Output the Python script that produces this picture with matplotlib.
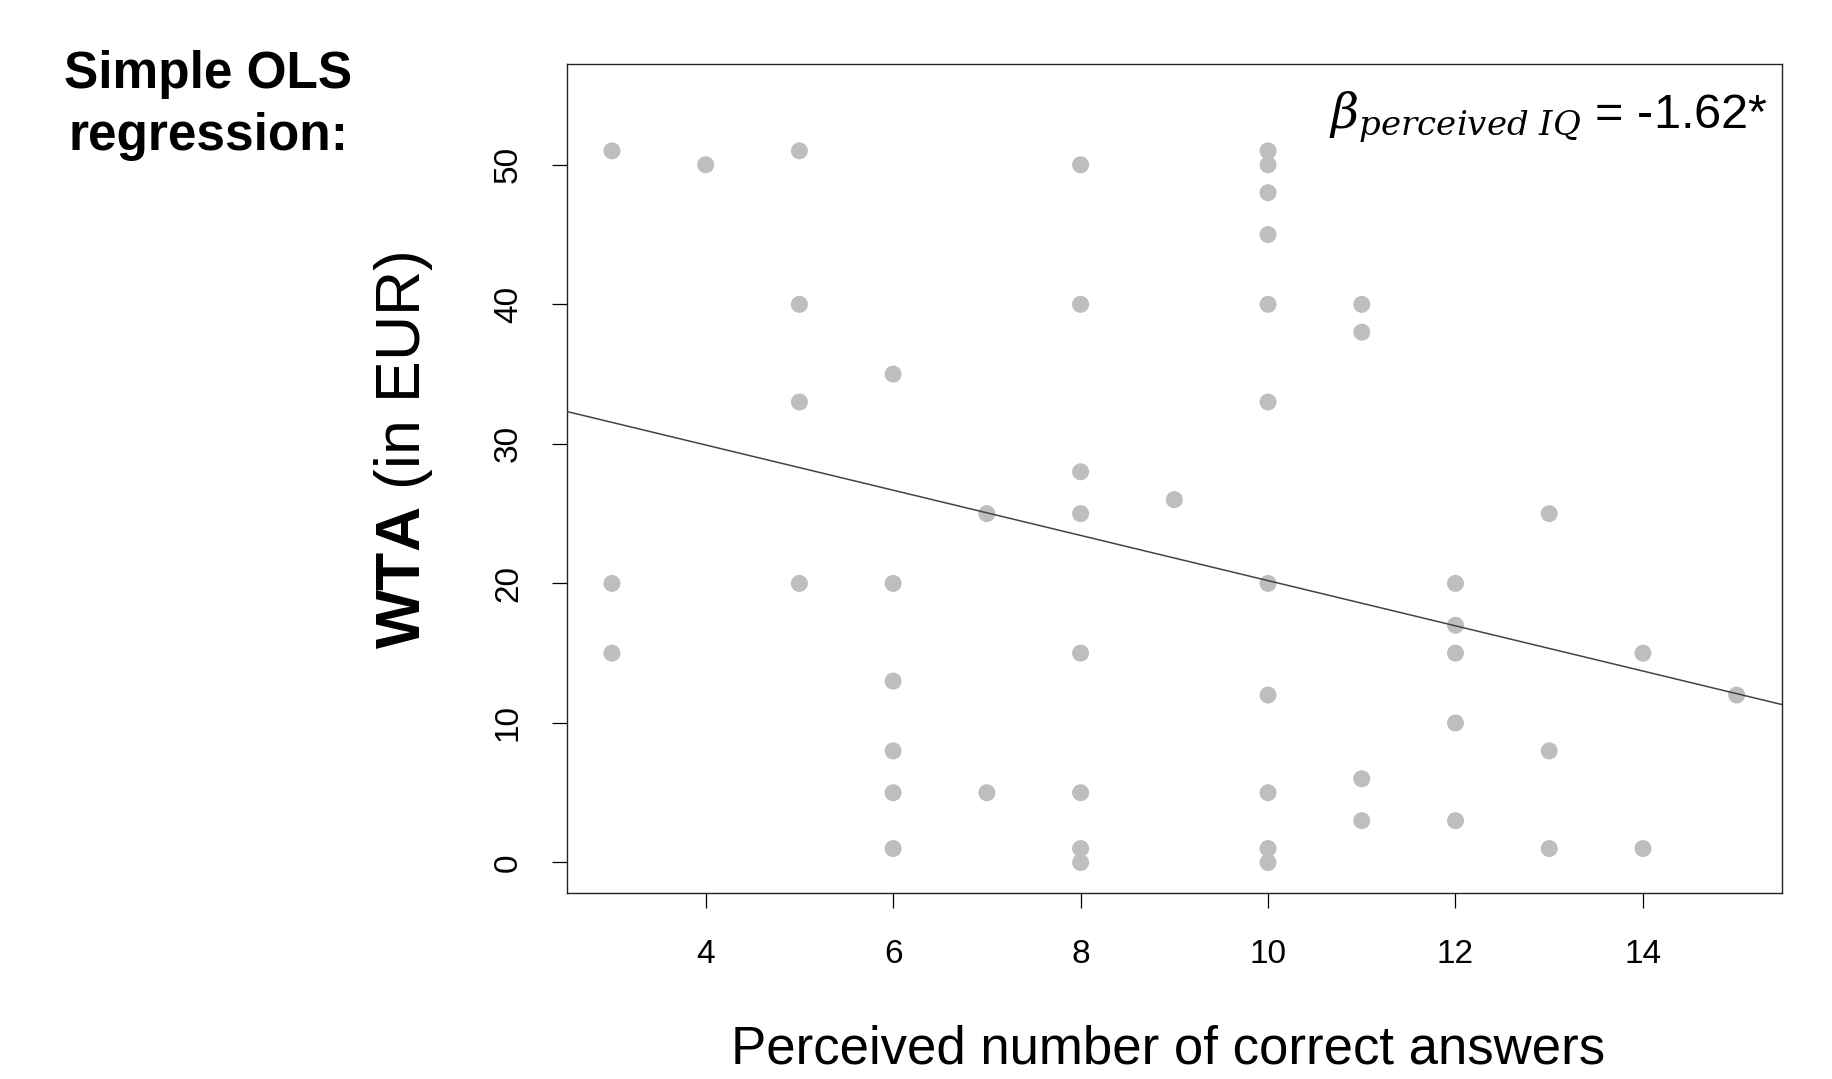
import matplotlib
matplotlib.use("Agg")
import matplotlib.pyplot as plt
import numpy as np

plt.rcParams['font.family'] = ['Liberation Sans', 'DejaVu Sans']
plt.rcParams['mathtext.fontset'] = 'custom'
plt.rcParams['mathtext.rm'] = 'Liberation Sans'
plt.rcParams['mathtext.bf'] = 'Liberation Sans:bold'
plt.rcParams['mathtext.it'] = 'DejaVu Serif:italic'

# Data (perceived correct answers, WTA in EUR)
perceived = [3, 3, 3,
             4,
             5, 5, 5, 5,
             6, 6, 6, 6, 6, 6,
             7, 7,
             8, 8, 8, 8, 8, 8, 8, 8,
             9,
             10, 10, 10, 10, 10, 10, 10, 10, 10, 10, 10,
             11, 11, 11, 11,
             12, 12, 12, 12, 12,
             13, 13, 13,
             14, 14,
             15]
wta = [51, 20, 15,
       50,
       51, 40, 33, 20,
       35, 20, 13, 8, 5, 1,
       25, 5,
       50, 40, 28, 25, 15, 5, 1, 0,
       26,
       51, 50, 48, 45, 40, 33, 20, 12, 5, 1, 0,
       40, 38, 6, 3,
       20, 17, 15, 10, 3,
       25, 8, 1,
       15, 1,
       12]
intercept = 36.4
slope = -1.62
x_ticks = [4, 6, 8, 10, 12, 14]
y_ticks = [0, 10, 20, 30, 40, 50]

fig = plt.figure(figsize=(18.33, 10.79), dpi=100)
ax = fig.add_axes([0.3093, 0.1722, 0.972 - 0.3093, 0.9404 - 0.1722])

ax.scatter(perceived, wta, s=150, color='#BEBEBE', edgecolors='none', zorder=2)
ax.axline((0, intercept), slope=slope, color='#444444', linewidth=1.1, zorder=3)

ax.set_xlim(2.52, 15.48)
ax.set_ylim(-2.2, 57.2)
ax.set_xticks(x_ticks)
ax.set_yticks(y_ticks)
ax.tick_params(axis='both', length=11, width=0.9, labelsize=24, colors='#000000')
ax.tick_params(axis='x', pad=22)
ax.tick_params(axis='y', pad=20)
for lab in ax.get_yticklabels():
    lab.set_rotation(90)
    lab.set_va('center')
for sp in ax.spines.values():
    sp.set_linewidth(1.0)
    sp.set_color('#222222')

fig.text(0.6372, 0.0278, 'Perceived number of correct answers', fontsize=38,
         ha='center', va='center')

fig.text(0.22, 0.583, r'$\mathbf{WTA}$ (in EUR)', rotation=90, fontsize=45,
         ha='center', va='center')

fig.text(0.1135, 0.9184, 'Simple OLS', fontsize=37, fontweight='bold',
         ha='center', va='baseline')
fig.text(0.1135, 0.861, 'regression:', fontsize=37, fontweight='bold',
         ha='center', va='baseline')

fig.text(0.9645, 0.8808, r'$\beta_{perceived\ IQ}$ = -1.62*', fontsize=35,
         ha='right', va='baseline')

fig.savefig('out.png', dpi=100)
